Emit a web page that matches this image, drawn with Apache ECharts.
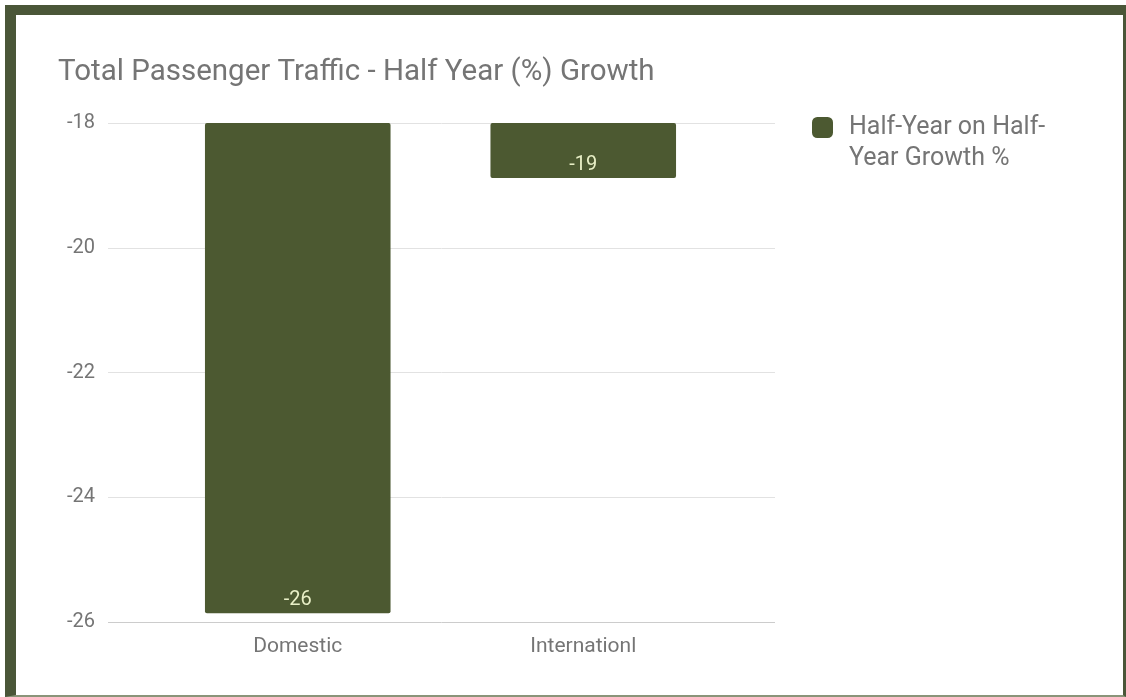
<!DOCTYPE html>
<html><head><meta charset="utf-8">
<script src="https://cdn.jsdelivr.net/npm/echarts@6/dist/echarts.min.js"></script>
<style>
html,body{margin:0;padding:0;background:#fff;}
#chart{position:absolute;left:0;top:0;width:1126px;height:697px;}
#frame{position:absolute;left:5px;top:5px;width:1121px;height:692px;box-sizing:border-box;border-left:11px solid #4a5638;border-top:10px solid #4a5638;border-right:3px solid #4a5638;border-bottom:2px solid #8a9479;pointer-events:none;}
</style></head><body>
<div id="chart"></div><div id="frame"></div>
<script>
const titleText = 'Total Passenger Traffic - Half Year (%) Growth';
const categories = ['Domestic', 'Internationl'];
const seriesName = 'Half-Year on Half-Year Growth %';
const legendLines = ['Half-Year on Half-', 'Year Growth %'];
const growthValues = [-25.86, -18.88];
const yTicks = [-26, -24, -22, -20, -18];

const yMin = yTicks[0], yMax = yTicks[yTicks.length - 1];
const textGray = '#757575';
const barColor = '#4c5931';
const font = 'Roboto, "Noto Sans", sans-serif';

const chart = echarts.init(document.getElementById('chart'), null, {renderer: 'canvas'});
chart.setOption({
  animation: false,
  backgroundColor: '#ffffff',
  title: {
    text: titleText, left: 53, top: 51,
    textStyle: {color: textGray, fontSize: 29.5, fontWeight: 'normal', fontFamily: font, lineHeight: 34}
  },
  legend: {
    left: 807, top: 76, orient: 'vertical',
    itemWidth: 21, itemHeight: 21, itemGap: 10,
    icon: 'roundRect',
    formatter: () => ' \n' + legendLines.join('\n'),
    textStyle: {color: textGray, fontSize: 25, fontFamily: font, lineHeight: 31, padding: [0, 0, 0, 11]}
  },
  grid: [
    {left: 108, right: 351, top: 123, bottom: 75},
    {left: 155, right: 400, top: 123, bottom: 75}
  ],
  xAxis: [
    {type: 'category', gridIndex: 0, data: categories, show: false},
    {type: 'category', gridIndex: 1, data: categories,
     axisLine: {show: false}, axisTick: {show: false},
     axisLabel: {color: textGray, fontSize: 21, fontFamily: font, margin: 14}}
  ],
  yAxis: [
    {type: 'value', gridIndex: 0, min: yMin, max: yMax, interval: 2,
     axisLine: {show: false}, axisTick: {show: false},
     axisLabel: {color: textGray, fontSize: 20, fontFamily: font, margin: 13},
     splitLine: {lineStyle: {color: ['#cccccc', '#e2e2e2', '#e2e2e2', '#e2e2e2', '#e2e2e2'], width: 1}}},
    {type: 'value', gridIndex: 1, min: yMin, max: yMax, interval: 2, show: false, splitLine: {show: false}}
  ],
  series: [{
    name: seriesName, type: 'bar', xAxisIndex: 1, yAxisIndex: 1,
    data: growthValues, barWidth: '65%', clip: true,
    itemStyle: {color: barColor, borderRadius: 2},
    label: {show: true, position: 'insideBottom', distance: 3,
      color: '#e8efc6', fontSize: 20, fontFamily: font,
      formatter: p => String(Math.round(p.value))}
  }]
});
</script></body></html>
